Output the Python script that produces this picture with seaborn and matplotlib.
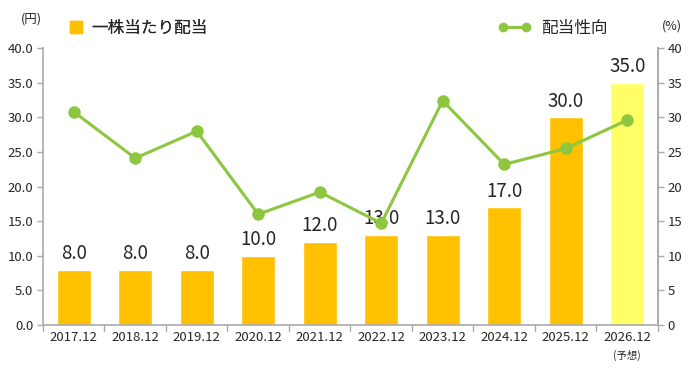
import matplotlib
matplotlib.use("Agg")
import matplotlib.pyplot as plt
from matplotlib.lines import Line2D
import seaborn as sns
import pandas as pd

years = ["2017.12", "2018.12", "2019.12", "2020.12", "2021.12",
         "2022.12", "2023.12", "2024.12", "2025.12", "2026.12"]
forecast_note = "(予想)"
dividend = [8.0, 8.0, 8.0, 10.0, 12.0, 13.0, 13.0, 17.0, 30.0, 35.0]
payout = [30.8, 24.1, 28.0, 16.0, 19.2, 14.7, 32.4, 23.2, 25.5, 29.6]
bar_colors = ["#FFC000"] * 9 + ["#FFFF66"]
line_color = "#8DC63F"

sns.set_theme(style="white")
plt.rcParams["font.family"] = ["Noto Sans CJK JP", "DejaVu Sans"]

fig = plt.figure(figsize=(7, 3.76), dpi=100)
ax = fig.add_axes([0.0614, 0.1356, 0.8786, 0.7364])

df = pd.DataFrame({"year": years, "dividend": dividend})
sns.barplot(data=df, x="year", y="dividend", hue="year", palette=bar_colors,
            legend=False, width=0.55, ax=ax, saturation=1)
ax.set_xlim(-0.5, 9.5)
ax.set_ylim(0, 40)
ax.set_yticks(range(0, 41, 5))
ax.set_yticklabels([f"{v:.1f}" for v in range(0, 41, 5)], fontsize=9.5)
ax.set_xlabel("")
ax.set_ylabel("")
ax.set_xticks(range(10))
ax.set_xticklabels(years, fontsize=9.5)
ax.tick_params(axis="x", length=0, labelsize=9.5, pad=4)
ax.tick_params(axis="y", length=4, color="#AAAAAA", width=1, pad=3, left=True)
ax.text(9, -3.6, forecast_note, ha="center", va="top", fontsize=7.5)
# boundary ticks at bottom
for b in [i + 0.5 for i in range(-1, 10)]:
    ax.plot([b, b], [0, -0.9], color="#AAAAAA", lw=1, clip_on=False)

for i, v in enumerate(dividend):
    ax.text(i, v + 0.8, f"{v:.1f}", ha="center", va="bottom", fontsize=13.5)

ax.spines["top"].set_visible(False)
for s in ["left", "bottom", "right"]:
    ax.spines[s].set_color("#AAAAAA")
    ax.spines[s].set_linewidth(1.2)

ax2 = ax.twinx()
pdf = pd.DataFrame({"x": list(range(10)), "payout": payout})
sns.lineplot(data=pdf, x="x", y="payout", ax=ax2, color=line_color, lw=2.2,
             marker="o", markersize=9, markeredgewidth=0)
ax2.set_ylim(0, 40)
ax2.set_xlim(-0.5, 9.5)
ax2.set_yticks(range(0, 41, 5))
ax2.set_yticklabels([str(v) for v in range(0, 41, 5)], fontsize=9.5)
ax2.set_ylabel("")
ax2.tick_params(axis="y", length=4, color="#AAAAAA", width=1, pad=3, right=True)
ax2.spines["top"].set_visible(False)
ax2.spines["left"].set_visible(False)
ax2.spines["bottom"].set_visible(False)
ax2.spines["right"].set_color("#AAAAAA")
ax2.spines["right"].set_linewidth(1.2)

fig.text(0.045, 0.95, "(円)", fontsize=9, ha="center", va="center")
fig.text(0.96, 0.93, "(%)", fontsize=9, ha="center", va="center")

h1 = Line2D([], [], marker="s", color="#FFC000", linestyle="none", markersize=8)
leg1 = fig.legend([h1], ["一株当たり配当"], loc="center left",
                  bbox_to_anchor=(0.075, 0.925), frameon=False, fontsize=12,
                  handletextpad=0.4, handlelength=1.0)
h2 = Line2D([], [], marker="o", color=line_color, lw=2.2, markersize=7,
            markeredgewidth=0)
leg2 = fig.legend([h2], ["配当性向"], loc="center left", numpoints=2,
                  bbox_to_anchor=(0.69, 0.925), frameon=False, fontsize=12,
                  handletextpad=0.6, handlelength=2.0)
fig.add_artist(leg1)

fig.savefig("out.png", dpi=100)
